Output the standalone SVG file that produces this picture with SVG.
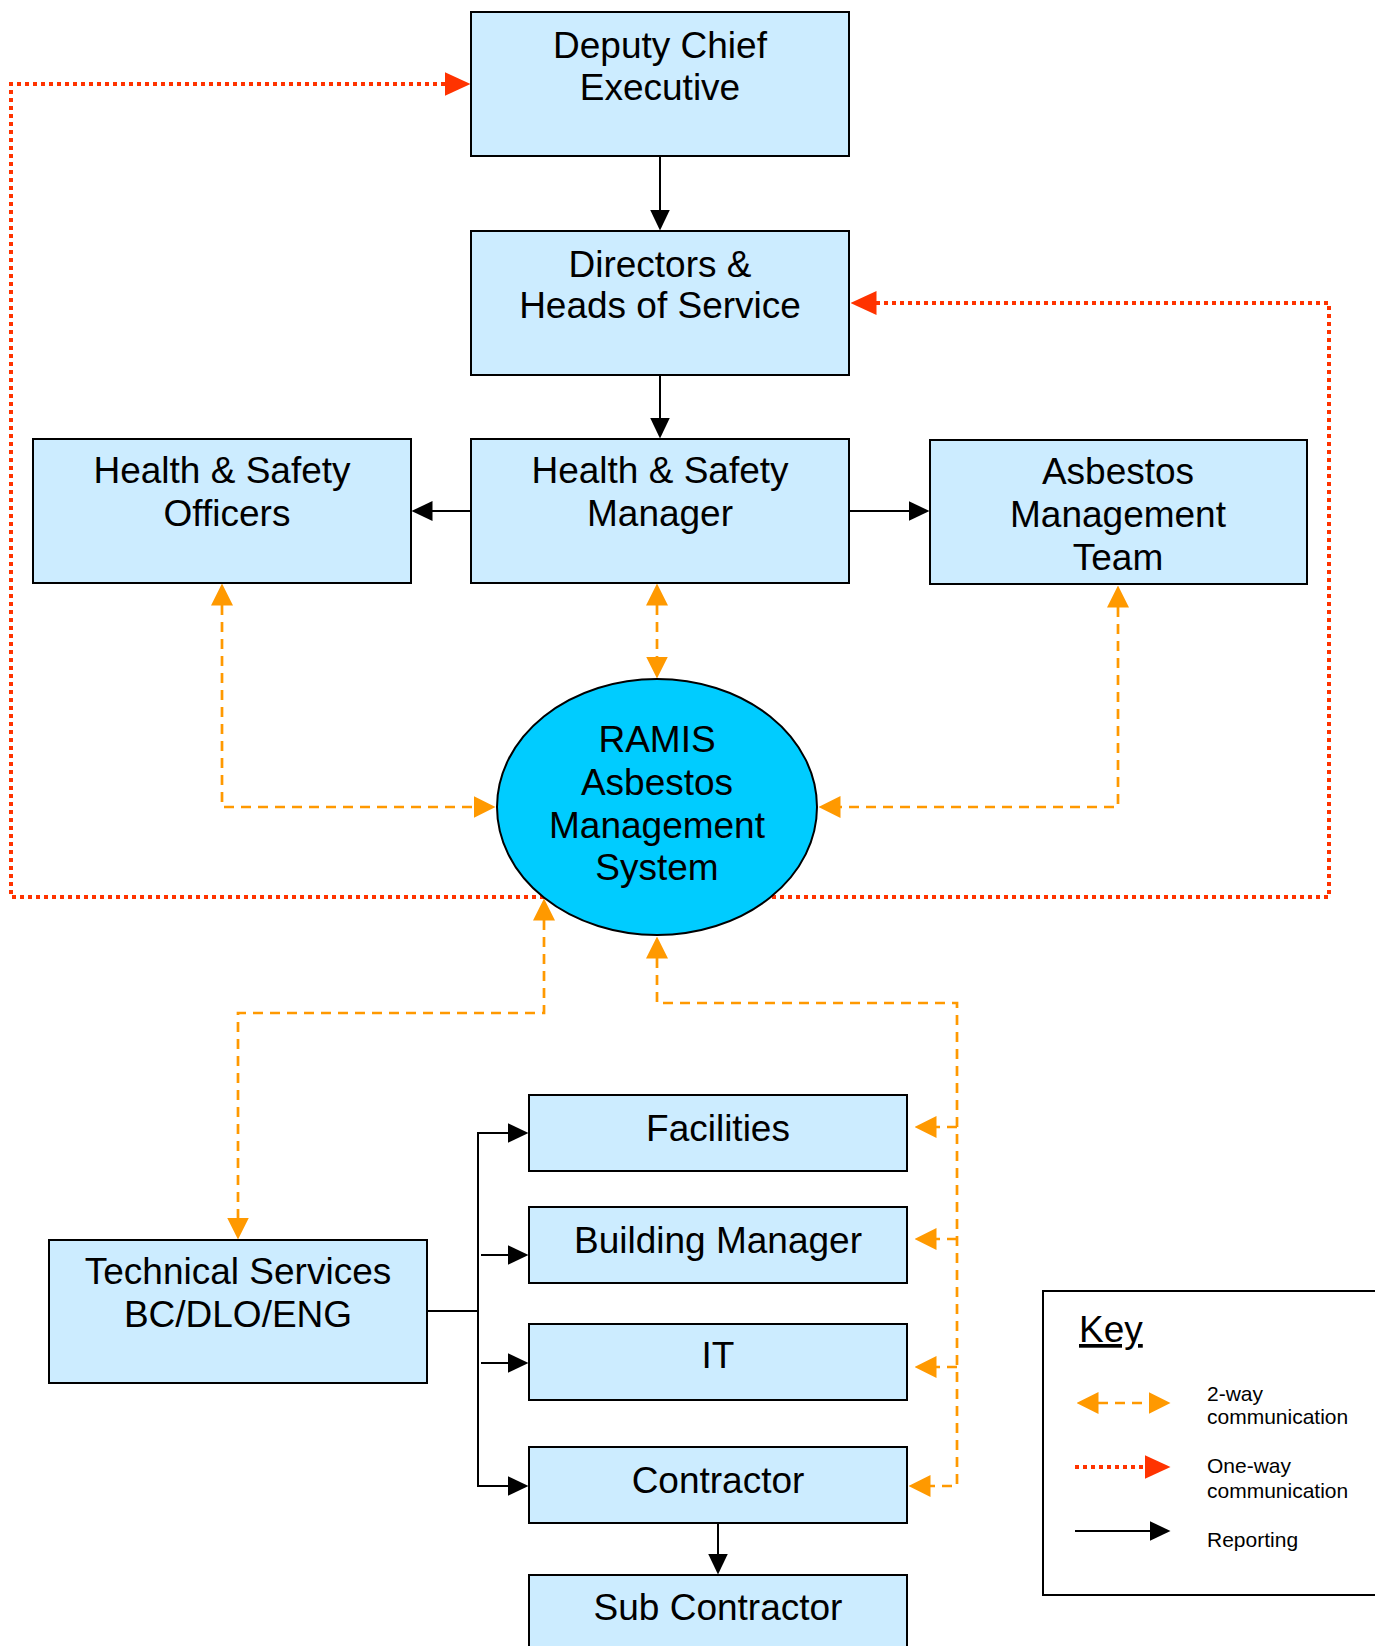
<svg xmlns="http://www.w3.org/2000/svg" width="1375" height="1646" viewBox="0 0 1375 1646">
<defs>
<style>
.box{fill:#CCECFF;stroke:#000;stroke-width:2}
.ell{fill:#00CCFF;stroke:#000;stroke-width:2}
.t{font-family:"Liberation Sans",Arial,Helvetica,sans-serif;font-size:37px;text-anchor:middle;fill:#000}
.k{font-family:"Liberation Sans",Arial,Helvetica,sans-serif;font-size:21px;fill:#000}
.rep{stroke:#000;stroke-width:2;fill:none;marker-end:url(#ab)}
.two{stroke:#FF9900;stroke-width:2.7;stroke-dasharray:10 7;fill:none}
.one{stroke:#FF3300;stroke-width:4;stroke-dasharray:4 4;fill:none}
</style>
<marker id="ab" markerUnits="userSpaceOnUse" viewBox="0 0 21 20" markerWidth="21" markerHeight="20" refX="0.5" refY="10" orient="auto-start-reverse"><path d="M0,0 L21,10 L0,20 z" fill="#000"/></marker>
<marker id="ao" markerUnits="userSpaceOnUse" viewBox="0 0 22 22" markerWidth="22" markerHeight="22" refX="0.5" refY="11" orient="auto-start-reverse"><path d="M0,0 L22,11 L0,22 z" fill="#FF9900"/></marker>
<marker id="ar" markerUnits="userSpaceOnUse" viewBox="0 0 26 24" markerWidth="26" markerHeight="24" refX="0.5" refY="12" orient="auto-start-reverse"><path d="M0,0 L26,12 L0,24 z" fill="#FF3300"/></marker>
</defs>
<rect width="1375" height="1646" fill="#fff"/>
<g id="connectors">
<path class="one" d="M445,84 H11 V897 H1329 V303 H876" marker-start="url(#ar)" marker-end="url(#ar)"/>
<path class="rep" d="M660,156 V210"/>
<path class="rep" d="M660,375 V418"/>
<path class="rep" d="M472,511 H432"/>
<path class="rep" d="M849,511 H909"/>
<path d="M427,1311 H478 M478,1133 V1486" stroke="#000" stroke-width="2" fill="none"/>
<path class="rep" d="M477,1133 H508"/>
<path class="rep" d="M481,1255 H508"/>
<path class="rep" d="M481,1363 H508"/>
<path class="rep" d="M477,1486 H508"/>
<path class="rep" d="M718,1523 V1554"/>
<path class="two" d="M222,605 V807 H474" marker-start="url(#ao)" marker-end="url(#ao)"/>
<path class="two" d="M657,605 V657" marker-start="url(#ao)" marker-end="url(#ao)"/>
<path class="two" d="M1118,607 V807 H840" marker-start="url(#ao)" marker-end="url(#ao)"/>
<path class="two" d="M544,920 V1013 H238 V1218" marker-start="url(#ao)" marker-end="url(#ao)"/>
<path class="two" d="M657,958 V1003 H957 V1486 H930" marker-start="url(#ao)" marker-end="url(#ao)"/>
<path class="two" d="M957,1127 H936" marker-end="url(#ao)"/>
<path class="two" d="M957,1239 H936" marker-end="url(#ao)"/>
<path class="two" d="M957,1367 H936" marker-end="url(#ao)"/>
</g>
<g id="deputy-chief-executive"><rect class="box" x="471" y="12" width="378" height="144"/><text class="t" x="660" y="58">Deputy Chief</text><text class="t" x="660" y="100">Executive</text></g>
<g id="directors"><rect class="box" x="471" y="231" width="378" height="144"/><text class="t" x="660" y="277">Directors &amp;</text><text class="t" x="660" y="318">Heads of Service</text></g>
<g id="hs-officers"><rect class="box" x="33" y="439" width="378" height="144"/><text class="t" x="222" y="483">Health &amp; Safety</text><text class="t" x="227" y="526">Officers</text></g>
<g id="hs-manager"><rect class="box" x="471" y="439" width="378" height="144"/><text class="t" x="660" y="483">Health &amp; Safety</text><text class="t" x="660" y="526">Manager</text></g>
<g id="amt"><rect class="box" x="930" y="440" width="377" height="144"/><text class="t" x="1118" y="484">Asbestos</text><text class="t" x="1118" y="527">Management</text><text class="t" x="1118" y="570">Team</text></g>
<g id="ramis"><ellipse class="ell" cx="657" cy="807" rx="160" ry="128"/><text class="t" x="657" y="752">RAMIS</text><text class="t" x="657" y="795">Asbestos</text><text class="t" x="657" y="838">Management</text><text class="t" x="657" y="880">System</text></g>
<g id="technical-services"><rect class="box" x="49" y="1240" width="378" height="143"/><text class="t" x="238" y="1284">Technical Services</text><text class="t" x="238" y="1327">BC/DLO/ENG</text></g>
<g id="facilities"><rect class="box" x="529" y="1095" width="378" height="76"/><text class="t" x="718" y="1141">Facilities</text></g>
<g id="building-manager"><rect class="box" x="529" y="1207" width="378" height="76"/><text class="t" x="718" y="1253">Building Manager</text></g>
<g id="it"><rect class="box" x="529" y="1324" width="378" height="76"/><text class="t" x="718" y="1368">IT</text></g>
<g id="contractor"><rect class="box" x="529" y="1447" width="378" height="76"/><text class="t" x="718" y="1493">Contractor</text></g>
<g id="sub-contractor"><rect class="box" x="529" y="1575" width="378" height="90"/><text class="t" x="718" y="1620">Sub Contractor</text></g>
<g id="key">
<rect x="1043" y="1291" width="340" height="304" fill="#fff" stroke="#000" stroke-width="2"/>
<text x="1079" y="1342" font-family="Liberation Sans, Arial, sans-serif" font-size="37" text-decoration="underline">Key</text>
<path class="two" d="M1098,1403 H1149" marker-start="url(#ao)" marker-end="url(#ao)"/>
<path class="one" d="M1075,1467 H1145" marker-end="url(#ar)"/>
<path class="rep" d="M1075,1531 H1150"/>
<text class="k" x="1207" y="1401">2-way</text>
<text class="k" x="1207" y="1424">communication</text>
<text class="k" x="1207" y="1473">One-way</text>
<text class="k" x="1207" y="1498">communication</text>
<text class="k" x="1207" y="1547">Reporting</text>
</g>
</svg>
